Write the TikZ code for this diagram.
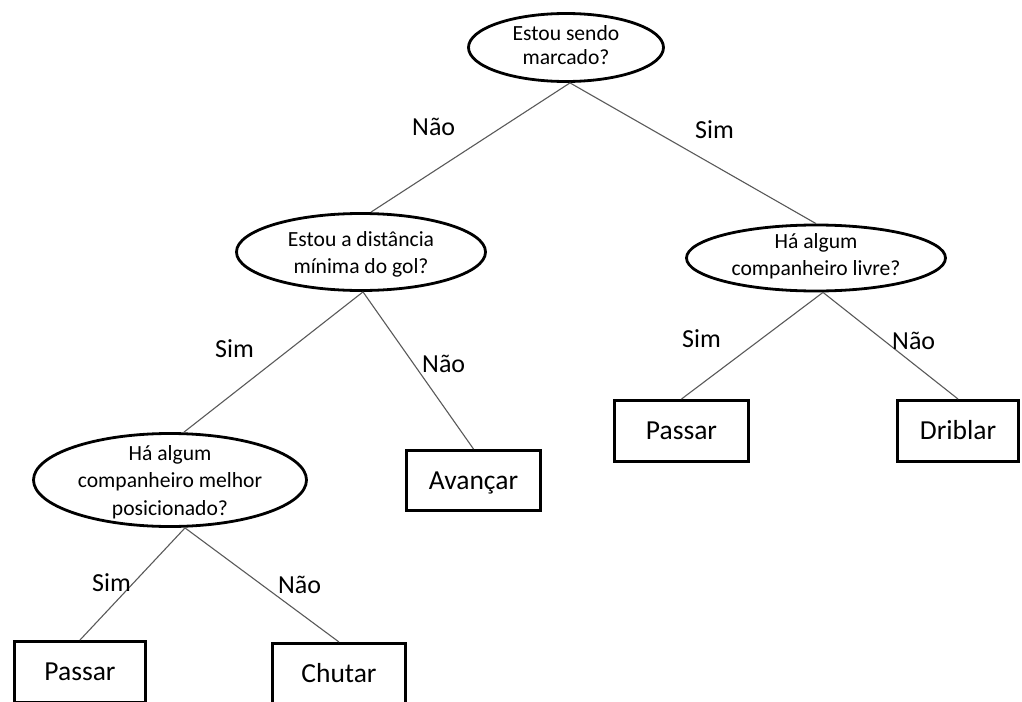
\documentclass[tikz,border=0pt]{standalone}
\usepackage{fontspec}
\setmainfont{Carlito}
\usetikzlibrary{shapes.geometric}
% question text: #1 line spacing, #2 downward shift, #3 lines;
% it takes no room, so the ellipse keeps the size it is given
\newcommand\questiontext[3]{\makebox[0pt]{\smash{\raisebox{-#2}{\fontsize{21.6}{#1}\selectfont\begin{tabular}{@{}c@{}}#3\end{tabular}}}}}
\begin{document}
\begin{tikzpicture}[x=1pt,y=-1pt,
  question/.style={ellipse, draw, line width=2.8pt, inner sep=0pt},
  action/.style={rectangle, draw, line width=3pt, inner sep=0pt, minimum height=61pt,
    font=\fontsize{27.5}{33}\selectfont, text height=17.7pt, text depth=0pt},
  branch/.style={draw=black!65, line width=1.1pt},
  answer/.style={inner sep=0pt, anchor=base west, font=\fontsize{26}{31}\selectfont}]
\useasboundingbox (0,0) rectangle (1022,701);
\clip (0,0) rectangle (1022,701);

% decision nodes
\node[question, minimum width=195pt, minimum height=68pt] (q1) at (566,47.5)
  {\questiontext{24pt}{5pt}{Estou sendo\\marcado?}};
\node[question, minimum width=249pt, minimum height=77pt] (q2) at (361,252)
  {\questiontext{26.7pt}{8pt}{Estou a distância\\mínima do gol?}};
\node[question, minimum width=259pt, minimum height=66pt] (q3) at (816,258)
  {\questiontext{27pt}{3.5pt}{Há algum\\companheiro livre?}};
\node[question, minimum width=273pt, minimum height=93pt] (q4) at (170,480)
  {\questiontext{27.5pt}{7.4pt}{Há algum\\companheiro melhor\\posicionado?}};

% actions
\node[action, minimum width=134pt] (a1) at (681.5,431) {Passar};
\node[action, minimum width=121pt] (a2) at (958,431) {Driblar};
\node[action, minimum width=134pt, minimum height=60pt] (a3) at (473.5,480.5) {Avançar};
\node[action, minimum width=131pt] (a4) at (80,672) {Passar};
\node[action, minimum width=133pt] (a5) at (339,674) {Chutar};

% branches
\draw[branch] ([xshift=4pt]q1.south) -- ([xshift=10pt]q2.north);
\draw[branch] ([xshift=4pt]q1.south) -- (q3.north);
\draw[branch] ([xshift=2pt]q2.south) -- ([xshift=14pt]q4.north);
\draw[branch] ([xshift=2pt]q2.south) -- (a3.north);
\draw[branch] ([xshift=7pt]q3.south) -- (a1.north);
\draw[branch] ([xshift=7pt]q3.south) -- (a2.north);
\draw[branch] ([xshift=15pt]q4.south) -- (a4.north);
\draw[branch] ([xshift=15pt]q4.south) -- (a5.north);

% branch answers
\node[answer] (l1) at (412,135) {Não};
\node[answer] (l2) at (695,138) {Sim};
\node[answer] (l3) at (215,357) {Sim};
\node[answer] (l4) at (422,372) {Não};
\node[answer] (l5) at (682,347) {Sim};
\node[answer] (l6) at (892,349) {Não};
\node[answer] (l7) at (92,591) {Sim};
\node[answer] (l8) at (278,593) {Não};
\end{tikzpicture}
\end{document}
